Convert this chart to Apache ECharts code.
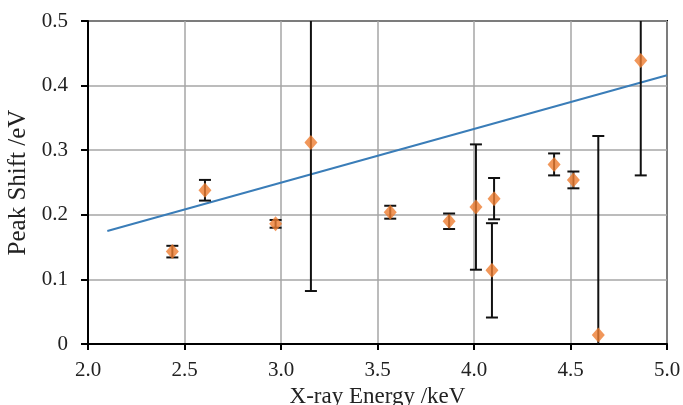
<!DOCTYPE html>
<html>
<head>
<meta charset="utf-8">
<script src="https://cdn.jsdelivr.net/npm/echarts@6/dist/echarts.min.js"></script>
<style>
  html, body { margin: 0; padding: 0; background: #fff; }
  #chart { width: 683px; height: 405px; }
</style>
</head>
<body>
<div id="chart"></div>
<script>
// measured points: x-ray energy (keV), peak shift (eV), error (eV)
var energy = [2.437, 2.606, 2.972, 3.155, 3.566, 3.871, 4.010, 4.104, 4.093, 4.415, 4.515, 4.644, 4.864];
var shift  = [0.143, 0.238, 0.186, 0.312, 0.204, 0.190, 0.212, 0.225, 0.114, 0.278, 0.254, 0.014, 0.439];
var errLo  = [0.009, 0.016, 0.006, 0.230, 0.010, 0.012, 0.097, 0.032, 0.073, 0.017, 0.013, 0.308, 0.178];
var errHi  = [0.009, 0.016, 0.006, 0.230, 0.010, 0.012, 0.097, 0.032, 0.073, 0.017, 0.013, 0.308, 0.178];

// fitted trend line
var trendX = [2.1, 5.0];
var trendY = [0.175, 0.416];

var xTicks = [2.0, 2.5, 3.0, 3.5, 4.0, 4.5, 5.0];
var yTicks = [0, 0.1, 0.2, 0.3, 0.4, 0.5];

var font = '"Liberation Serif", "DejaVu Serif", serif';

var points = energy.map(function (e, i) { return [e, shift[i]]; });
var bars = energy.map(function (e, i) { return [e, shift[i] - errLo[i], shift[i] + errHi[i]]; });
var trend = trendX.map(function (x, i) { return [x, trendY[i]]; });

var chart = echarts.init(document.getElementById('chart'));

chart.setOption({
    animation: false,
    grid: {
        left: 88, right: 16, top: 21, bottom: 61,
        outerBoundsMode: 'none',
        show: true, borderColor: '#000', borderWidth: 2
    },
    xAxis: {
        type: 'value',
        min: xTicks[0], max: xTicks[xTicks.length - 1], interval: 0.5,
        name: 'X-ray Energy /keV',
        nameLocation: 'middle', nameGap: 41,
        nameTextStyle: {fontFamily: font, fontSize: 23, color: '#222'},
        axisLine: {lineStyle: {color: '#000', width: 2}},
        axisTick: {show: true, length: 6, lineStyle: {color: '#000', width: 2}},
        axisLabel: {fontFamily: font, fontSize: 21, color: '#222', margin: 16,
            formatter: function (v) { return v.toFixed(1); }},
        splitLine: {lineStyle: {color: '#a6a6a6', width: 1.5}}
    },
    yAxis: {
        type: 'value',
        min: yTicks[0], max: yTicks[yTicks.length - 1], interval: 0.1,
        name: 'Peak Shift /eV',
        nameLocation: 'middle', nameGap: 54,
        nameTextStyle: {fontFamily: font, fontSize: 25, color: '#222'},
        axisLine: {show: true, lineStyle: {color: '#000', width: 2}},
        axisTick: {show: true, length: 7, lineStyle: {color: '#000', width: 2}},
        axisLabel: {fontFamily: font, fontSize: 21, color: '#222', margin: 20,
            formatter: function (v) { return v === 0 ? '0' : v.toFixed(1); }},
        splitLine: {lineStyle: {color: '#a6a6a6', width: 1.5}}
    },
    series: [
        {
            type: 'line',
            data: trend,
            showSymbol: false,
            lineStyle: {color: '#3a7db8', width: 2},
            z: 2
        },
        {
            type: 'custom',
            clip: true,
            data: bars,
            z: 3,
            renderItem: function (params, api) {
                var x = api.value(0);
                var lo = api.coord([x, api.value(1)]);
                var hi = api.coord([x, api.value(2)]);
                var cap = 6;
                var style = {stroke: '#111', lineWidth: 2};
                return {
                    type: 'group',
                    children: [
                        {type: 'line', shape: {x1: lo[0], y1: lo[1], x2: hi[0], y2: hi[1]}, style: style},
                        {type: 'line', shape: {x1: lo[0] - cap, y1: lo[1], x2: lo[0] + cap, y2: lo[1]}, style: style},
                        {type: 'line', shape: {x1: hi[0] - cap, y1: hi[1], x2: hi[0] + cap, y2: hi[1]}, style: style}
                    ]
                };
            }
        },
        {
            type: 'scatter',
            data: points,
            symbol: 'diamond',
            symbolSize: [13, 15],
            itemStyle: {color: '#ed7d31'},
            z: 4
        }
    ]
});
</script>
</body>
</html>
